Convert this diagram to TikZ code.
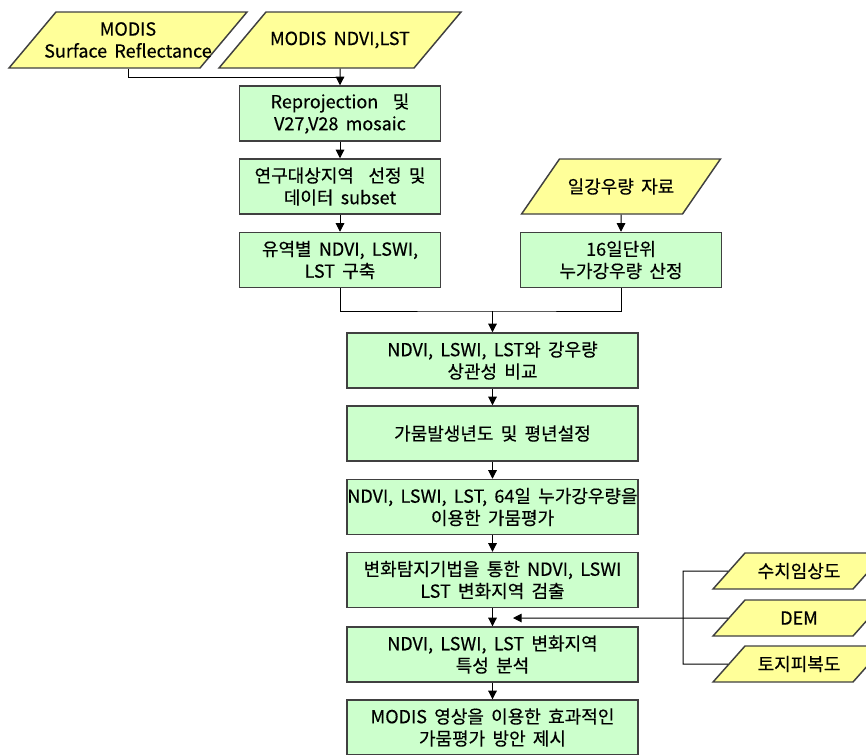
\documentclass[tikz,border=0pt]{standalone}
\usepackage{fontspec}
\setmainfont{Noto Sans CJK KR}[WordSpace=1.8, FakeBold=0.4]
\usetikzlibrary{shapes.geometric,arrows.meta}
\definecolor{boxgreen}{HTML}{CCFFCC}
\definecolor{datayellow}{HTML}{FFFF99}
\begin{document}
\begin{tikzpicture}
[x=0.75pt, y=-0.75pt, font=\fontsize{13.5}{16.5}\selectfont, line width=0.75pt,
stepS/.style={rectangle, draw=black!75, fill=boxgreen, line width=1.1pt, align=center, inner sep=0pt, minimum width=150.75pt, minimum height=41.25pt},
stepL/.style={stepS, minimum width=218.25pt},
data/.style 2 args={trapezium, trapezium left angle=50, trapezium right angle=130, draw=black!75, fill=datayellow, line width=1.1pt, inner sep=0pt,
  execute at begin node={\begin{minipage}[c][#2][c]{#1}\centering}, execute at end node={\end{minipage}}},
dataR/.style={data={92.25pt}{41.25pt}, trapezium left angle=55.4, trapezium right angle=124.6},
dataS/.style={data={81pt}{27pt}, trapezium left angle=48.4, trapezium right angle=131.6},
arr/.style={-{Triangle[length=6.5pt,width=6.5pt]}}]

\useasboundingbox (0,0) rectangle (866,754);

\node[data={108pt}{42pt}] (srf) at (128,40) {MODIS\\\makebox[0pt]{Surface Reflectance}};
\node[data={111pt}{42pt}] (ndvi) at (340,40) {MODIS NDVI,LST};
\node[stepS] (reproj) at (340,113.5) {Reprojection\ \ 및\\V27,V28 mosaic};
\node[stepS] (subset) at (340,186.5) {연구대상지역\ \ 선정 및\\데이터 subset};
\node[stepS] (basin) at (340,260) {유역별 NDVI, LSWI,\\LST 구축};
\node[dataR] (rain) at (621,186.5) {일강우량 자료};
\node[stepS] (rain16) at (621,260) {16일단위\\누가강우량 산정};

\node[stepL] (corr) at (492.5,360.5) {NDVI, LSWI, LST와 강우량\\상관성 비교};
\node[stepL] (year) at (492.5,433.5) {가뭄발생년도 및 평년설정};
\node[stepL] (eval) at (492.5,507) {NDVI, LSWI, LST, 64일 누가강우량을\\이용한 가뭄평가};
\node[stepL] (detect) at (492.5,580) {변화탐지기법을 통한 NDVI, LSWI\\LST 변화지역 검출};
\node[stepL] (char) at (492.5,654.5) {NDVI, LSWI, LST 변화지역\\특성 분석};
\node[stepL] (plan) at (492.5,727.5) {MODIS 영상을 이용한 효과적인\\가뭄평가 방안 제시};

\node[dataS] (forest) at (799,571) {수치임상도};
\node[dataS] (dem) at (799,618) {DEM};
\node[dataS] (cover) at (799,664) {토지피복도};

\coordinate (j1) at (340,77);
\coordinate (j2) at (492.5,311);
\coordinate (bus) at (683,664);
\coordinate (tip) at (513,618);

\draw (srf.south) |- (j1);
\draw[arr] (ndvi.south) -- (reproj.north);
\foreach \a/\b in {reproj/subset, subset/basin, rain/rain16, corr/year, year/eval, eval/detect, detect/char, char/plan} {
  \draw[arr] (\a.south) -- (\b.north);
}
\draw (basin.south) |- (j2) -| (rain16.south);
\draw[arr] (j2) -- (corr.north);
\draw (forest.west) -| (bus) -- (cover.west);
\draw[arr] (dem.west) -- (tip);
\end{tikzpicture}
\end{document}
